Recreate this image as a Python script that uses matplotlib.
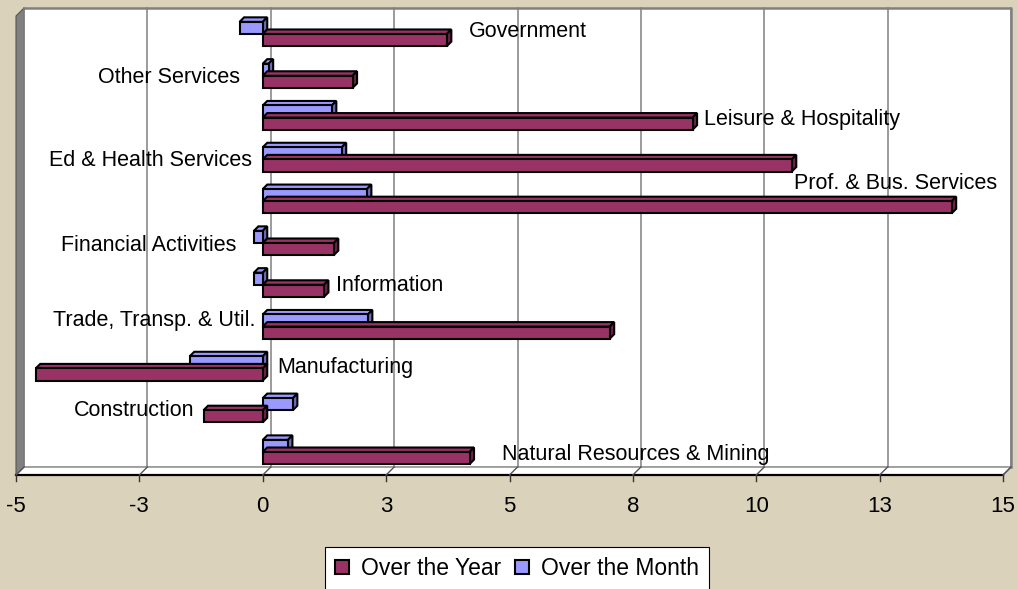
import matplotlib
matplotlib.use("Agg")
import matplotlib.pyplot as plt
from matplotlib.patches import Polygon, Rectangle, Patch
from matplotlib.transforms import ScaledTranslation, IdentityTransform

plt.rcParams['font.family'] = ['Liberation Sans', 'DejaVu Sans']

# job change by industry, bottom to top as drawn
categories = ["Natural Resources & Mining", "Construction", "Manufacturing",
              "Trade, Transp. & Util.", "Information", "Financial Activities",
              "Prof. & Bus. Services", "Ed & Health Services",
              "Leisure & Hospitality", "Other Services", "Government"]
over_year = [4.19, -1.20, -4.60, 7.03, 1.24, 1.44, 13.96, 10.72, 8.71, 1.82, 3.73]
over_month = [0.51, 0.61, -1.48, 2.13, -0.18, -0.18, 2.11, 1.60, 1.40, 0.12, -0.47]

tick_values = [-5, -2.5, 0, 2.5, 5, 7.5, 10, 12.5, 15]
tick_labels = ["-5", "-3", "0", "3", "5", "8", "10", "13", "15"]

# where the category names sit (excel put them next to the bars)
label_x = [4.84, -1.38, 0.30, -0.14, 1.48, -0.53, 10.76, -0.22, 8.94, -0.47, 4.17]
label_ha = ['left', 'right', 'left', 'right', 'left', 'right',
            'left', 'right', 'left', 'right', 'left']
label_dy = [-0.02, 0.03, 0.08, 0.2, 0.04, 0.0, 0.48, 0.03, 0.01, 0.0, 0.1]

YEAR_C = '#993366'
YEAR_SIDE = '#6a2347'
MONTH_C = '#9999ff'
MONTH_SIDE = '#6b6bb8'
BG = '#dbd2bc'

W, H = 1018, 589
DPI = 100
D = 8      # depth of the 3d box, px
BD = 4.5   # depth of a bar, px
FS = 15.5
EDGE = 1.5

fig = plt.figure(figsize=(W / DPI, H / DPI), dpi=DPI, facecolor=BG)
ax = fig.add_axes([16 / W, (H - 475) / H, (1003 - 16) / W, (475 - 16) / H])
ax.set_xlim(-5, 15)
ax.set_ylim(-0.55, 10.43)
ax.axis('off')

ident = IdentityTransform()
back_ax = ax.transAxes + ScaledTranslation(D / DPI, D / DPI, fig.dpi_scale_trans)
back_data = ax.transData + ScaledTranslation(D / DPI, D / DPI, fig.dpi_scale_trans)


def disp(x, y, tr):
    return tr.transform((x, y))


def shifted(p, d):
    return (p[0] + d, p[1] + d)


# walls and floor
ax.add_patch(Rectangle((0, 0), 1, 1, transform=back_ax, facecolor='white',
                       edgecolor='none', clip_on=False, zorder=0))
ax.plot([0, 1, 1], [1, 1, 0], transform=back_ax, color='#808080', lw=1.8,
        clip_on=False, zorder=1)
ax.plot([0, 1], [0, 0], transform=back_ax, color='#808080', lw=1.0,
        clip_on=False, zorder=1)

bl = disp(0, 0, ax.transAxes)
tl = disp(0, 1, ax.transAxes)
br = disp(1, 0, ax.transAxes)
ax.add_patch(Polygon([bl, tl, shifted(tl, D), shifted(bl, D)], closed=True,
                     transform=ident, facecolor='#808080', edgecolor='#555555',
                     lw=0.8, clip_on=False, zorder=1))
ax.add_patch(Polygon([bl, br, shifted(br, D), shifted(bl, D)], closed=True,
                     transform=ident, facecolor='white', edgecolor='#808080',
                     lw=1.0, clip_on=False, zorder=1))
ax.plot([bl[0], br[0]], [bl[1], br[1]], transform=ident, color='black',
        lw=1.6, clip_on=False, zorder=2)

# gridlines on the back wall, ticks on the floor
y0, y1 = ax.get_ylim()
for t, lab in zip(tick_values, tick_labels):
    ax.plot([t, t], [y0, y1], transform=back_data, color='#808080', lw=1.1,
            clip_on=False, zorder=1)
    p = disp(t, y0, ax.transData)
    q = shifted(p, D)
    ax.plot([p[0], q[0]], [p[1], q[1]], transform=ident, color='#555555',
            lw=1.0, clip_on=False, zorder=2)
    ax.plot([p[0], p[0]], [p[1], p[1] - 6], transform=ident, color='#333333',
            lw=1.0, clip_on=False, zorder=2)
    ax.text(p[0], p[1] - 37, lab, transform=ident, ha='center', va='baseline',
            fontsize=FS + 0.5, color='black')

# bars
h = 0.29
ypos = list(range(len(categories)))


def draw_series(vals, offset, color, side, z):
    bars = ax.barh([y + offset for y in ypos], vals, height=h, color=color,
                   edgecolor='black', lw=EDGE, zorder=z + 1)
    for r in bars.patches:
        xa, xb = sorted([r.get_x(), r.get_x() + r.get_width()])
        yb, yt = r.get_y(), r.get_y() + r.get_height()
        p_lt = disp(xa, yt, ax.transData)
        p_rt = disp(xb, yt, ax.transData)
        p_rb = disp(xb, yb, ax.transData)
        ax.add_patch(Polygon([p_lt, p_rt, shifted(p_rt, BD), shifted(p_lt, BD)],
                             closed=True, transform=ident, facecolor=color,
                             edgecolor='black', lw=EDGE, joinstyle='miter',
                             clip_on=False, zorder=z))
        ax.add_patch(Polygon([p_rb, p_rt, shifted(p_rt, BD), shifted(p_rb, BD)],
                             closed=True, transform=ident, facecolor=side,
                             edgecolor='black', lw=EDGE, joinstyle='miter',
                             clip_on=False, zorder=z))


draw_series(over_month, h / 2, MONTH_C, MONTH_SIDE, 3)
draw_series(over_year, -h / 2, YEAR_C, YEAR_SIDE, 5)

for y, name, lx, ha, dy in zip(ypos, categories, label_x, label_ha, label_dy):
    ax.text(lx, y + dy - 0.18, name, ha=ha, va='baseline', fontsize=FS,
            color='black', zorder=8, clip_on=False)

handles = [Patch(facecolor=YEAR_C, edgecolor='black', lw=1.5, label='Over the Year'),
           Patch(facecolor=MONTH_C, edgecolor='black', lw=1.5, label='Over the Month')]
leg = fig.legend(handles=handles, loc='upper left',
                 bbox_to_anchor=(325 / W, 1 - 547 / H), ncol=2, frameon=True,
                 fancybox=False, edgecolor='black', facecolor='white',
                 framealpha=1, fontsize=16.5, handlelength=0.58,
                 handleheight=0.58, handletextpad=0.55, columnspacing=0.6,
                 borderpad=0.45, borderaxespad=0)
leg.get_frame().set_linewidth(0.8)

fig.savefig('out.png', dpi=DPI, facecolor=BG)
